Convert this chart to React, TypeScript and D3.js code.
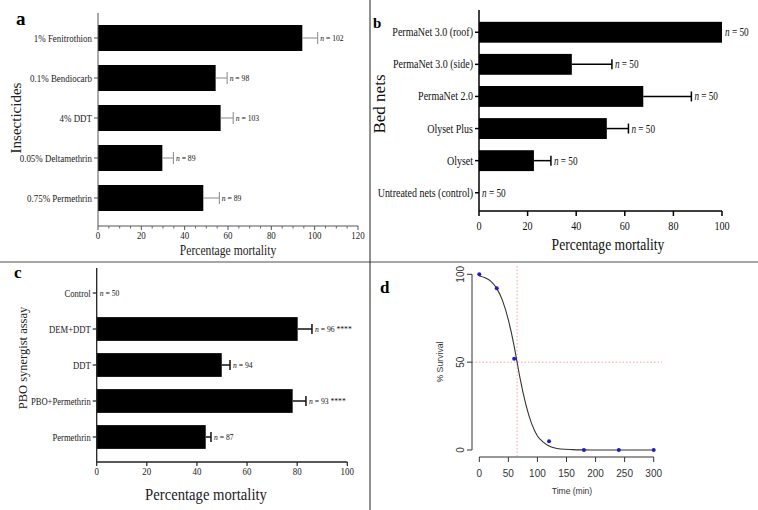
import React from 'react';
import * as d3 from 'd3';

// panel a: WHO tube tests
const insecticides = ['1% Fenitrothion', '0.1% Bendiocarb', '4% DDT', '0.05% Deltamethrin', '0.75% Permethrin'];
const insectMortality = [94.3, 54.3, 56.6, 29.7, 48.6];
const insectErr = [7.1, 5.3, 5.8, 5.1, 7.4];
const insectN = [102, 98, 103, 89, 89];

// panel b: cone tests on bed nets
const netLabels = ['PermaNet 3.0 (roof)', 'PermaNet 3.0 (side)', 'PermaNet 2.0', 'Olyset Plus', 'Olyset', 'Untreated nets (control)'];
const netMortality = [100, 38.2, 67.6, 52.6, 22.6, 0];
const netErr = [0, 16.5, 19.8, 8.9, 7, 0];
const netN = [50, 50, 50, 50, 50, 50];

// panel c: synergist assay
const pboLabels = ['Control', 'DEM+DDT', 'DDT', 'PBO+Permethrin', 'Permethrin'];
const pboMortality = [0, 80.2, 49.9, 78.2, 43.5];
const pboErr = [0, 5.7, 3.3, 5.3, 2.1];
const pboN = [50, 96, 94, 93, 87];
const pboSig = ['', '****', '', '****', ''];

// panel d: time-survival
const timePoints = [0, 30, 60, 120, 180, 240, 300];
const survival = [100, 92, 52, 5, 0, 0, 0];
const fitTime = [0, 10, 20, 30, 40, 50, 60, 65, 70, 80, 90, 100, 110, 120, 140, 160, 180, 200, 250, 300];
const fitSurvival = [99, 98, 96, 92, 85, 74, 59, 50, 41, 26, 15, 8, 4.5, 2.3, 0.6, 0.2, 0.05, 0, 0, 0];
const lt50 = 65;

const xTicks20 = [0, 20, 40, 60, 80, 100, 120];

const SERIF = '"Liberation Serif", "Times New Roman", serif';
const SANS = '"Liberation Sans", Arial, sans-serif';

// horizontally condensed text, the source figure is squeezed a bit
const CT: React.FC<any> = ({ x, y, sx = 0.85, children, ...rest }) => (
  <g transform={`translate(${x},${y}) scale(${sx},1)`}>
    <text fontFamily={SERIF} {...rest}>{children}</text>
  </g>
);

const NLabel: React.FC<{ x: number; y: number; n: number; size: number; extra?: string; sx?: number }> = ({ x, y, n, size, extra, sx = 0.85 }) => (
  <CT x={x} y={y} sx={sx} fontSize={size} fill="#111">
    <tspan fontStyle="italic">n</tspan>
    {` = ${n}`}
    {extra ? ` ${extra}` : ''}
  </CT>
);

function PanelA() {
  const x = d3.scaleLinear().domain([0, 120]).range([98, 358]);
  const y = d3.scaleBand<string>().domain(insecticides).range([18, 218]).paddingInner(0.35).paddingOuter(0.175);
  const axisY = 226;
  const minor = d3.range(0, 121, 5).filter(v => v % 20 !== 0);
  return (
    <g>
      {insecticides.map((name, i) => {
        const cy = (y(name) ?? 0) + y.bandwidth() / 2;
        const end = x(insectMortality[i]);
        const cap = x(insectMortality[i] + insectErr[i]);
        return (
          <g key={name}>
            <rect x={x(0)} y={y(name)} width={end - x(0)} height={y.bandwidth()} fill="#000" />
            <line x1={end} x2={cap} y1={cy} y2={cy} stroke="#888" strokeWidth={1} />
            <line x1={cap} x2={cap} y1={cy - 6} y2={cy + 6} stroke="#888" strokeWidth={1} />
            <NLabel x={cap + 2.5} y={cy + 3} n={insectN[i]} size={9} />
            <line x1={x(0) - 4} x2={x(0)} y1={cy} y2={cy} stroke="#555" />
            <CT x={x(0) - 6} y={cy + 3.5} fontSize={10.5} textAnchor="end" fill="#222">{name}</CT>
          </g>
        );
      })}
      <line x1={x(0)} x2={x(0)} y1={13} y2={axisY} stroke="#555" strokeWidth={1} />
      <line x1={x(0)} x2={x(120)} y1={axisY} y2={axisY} stroke="#555" strokeWidth={1} />
      {minor.map(v => (
        <line key={v} x1={x(v)} x2={x(v)} y1={axisY} y2={axisY + 2.5} stroke="#666" />
      ))}
      {xTicks20.map(v => (
        <g key={v}>
          <line x1={x(v)} x2={x(v)} y1={axisY} y2={axisY + 4} stroke="#555" />
          <CT x={x(v)} y={239} fontSize={10.5} textAnchor="middle" fill="#222">{v}</CT>
        </g>
      ))}
      <CT x={228} y={255} fontSize={14} sx={0.83} textAnchor="middle" fill="#222">Percentage mortality</CT>
      <text transform="translate(21,118) rotate(-90)" fontFamily={SERIF} fontSize={15} textAnchor="middle" fill="#222">Insecticides</text>
      <text x={16} y={25} fontFamily={SERIF} fontSize={19} fontWeight="bold" fill="#000">a</text>
    </g>
  );
}

function PanelB() {
  const x = d3.scaleLinear().domain([0, 100]).range([479, 722]);
  const y = d3.scaleBand<string>().domain(netLabels).range([16.2, 208.8]).paddingInner(0.35).paddingOuter(0.175);
  const axisY = 211;
  return (
    <g>
      {netLabels.map((name, i) => {
        const cy = (y(name) ?? 0) + y.bandwidth() / 2;
        const end = x(netMortality[i]);
        const cap = x(netMortality[i] + netErr[i]);
        return (
          <g key={name}>
            {netMortality[i] > 0 && (
              <rect x={x(0)} y={y(name)} width={end - x(0)} height={y.bandwidth()} fill="#000" />
            )}
            {netErr[i] > 0 && (
              <g>
                <line x1={end} x2={cap} y1={cy} y2={cy} stroke="#000" strokeWidth={1.5} />
                <line x1={cap} x2={cap} y1={cy - 5} y2={cy + 5} stroke="#000" strokeWidth={1.5} />
              </g>
            )}
            <NLabel x={Math.max(cap, end) + 3} y={cy + 4} n={netN[i]} size={11.5} sx={0.8} />
            <line x1={x(0) - 4} x2={x(0)} y1={cy} y2={cy} stroke="#000" strokeWidth={1.5} />
            <CT x={x(0) - 6} y={cy + 4} fontSize={12.5} sx={0.8} textAnchor="end" fill="#111">{name}</CT>
          </g>
        );
      })}
      <line x1={x(0)} x2={x(0)} y1={10} y2={axisY} stroke="#000" strokeWidth={1.5} />
      <line x1={x(0)} x2={x(100)} y1={axisY} y2={axisY} stroke="#000" strokeWidth={1.5} />
      {x.ticks(5).map(v => (
        <g key={v}>
          <line x1={x(v)} x2={x(v)} y1={axisY} y2={axisY + 5} stroke="#000" strokeWidth={1.5} />
          <CT x={x(v)} y={230} fontSize={13} sx={0.78} textAnchor="middle" fill="#111">{v}</CT>
        </g>
      ))}
      <CT x={608} y={250} fontSize={17} sx={0.8} textAnchor="middle" fill="#111">Percentage mortality</CT>
      <text transform="translate(385,104) rotate(-90)" fontFamily={SERIF} fontSize={17} textAnchor="middle" fill="#111">Bed nets</text>
      <text x={373} y={28} fontFamily={SERIF} fontSize={15} fontWeight="bold" fill="#000">b</text>
    </g>
  );
}

function PanelC() {
  const x = d3.scaleLinear().domain([0, 100]).range([96.7, 347.3]);
  const y = d3.scaleBand<string>().domain(pboLabels).range([275, 455]).paddingInner(0.34).paddingOuter(0.17);
  const axisY = 462;
  return (
    <g>
      {pboLabels.map((name, i) => {
        const cy = (y(name) ?? 0) + y.bandwidth() / 2;
        const end = x(pboMortality[i]);
        const cap = x(pboMortality[i] + pboErr[i]);
        return (
          <g key={name}>
            {pboMortality[i] > 0 && (
              <rect x={x(0)} y={y(name)} width={end - x(0)} height={y.bandwidth()} fill="#000" />
            )}
            {pboErr[i] > 0 && (
              <g>
                <line x1={end} x2={cap} y1={cy} y2={cy} stroke="#111" strokeWidth={1.5} />
                <line x1={cap} x2={cap} y1={cy - 5} y2={cy + 5} stroke="#111" strokeWidth={1.5} />
              </g>
            )}
            <NLabel x={Math.max(cap, end) + 3} y={cy + 3} n={pboN[i]} size={9} extra={pboSig[i]} />
            <line x1={x(0) - 4} x2={x(0)} y1={cy} y2={cy} stroke="#222" strokeWidth={1.2} />
            <CT x={x(0) - 6} y={cy + 3.5} fontSize={10.5} sx={0.82} textAnchor="end" fill="#222">{name}</CT>
          </g>
        );
      })}
      <line x1={x(0)} x2={x(0)} y1={268} y2={axisY} stroke="#222" strokeWidth={1.3} />
      <line x1={x(0)} x2={x(100)} y1={axisY} y2={axisY} stroke="#222" strokeWidth={1.3} />
      {x.ticks(5).map(v => (
        <g key={v}>
          <line x1={x(v)} x2={x(v)} y1={axisY} y2={axisY + 4} stroke="#222" strokeWidth={1.2} />
          <CT x={x(v)} y={475} fontSize={10.5} textAnchor="middle" fill="#222">{v}</CT>
        </g>
      ))}
      <CT x={206} y={500} fontSize={16.5} sx={0.89} textAnchor="middle" fill="#222">Percentage mortality</CT>
      <text transform="translate(27,358) rotate(-90)" fontFamily={SERIF} fontSize={12.5} textAnchor="middle" fill="#222">PBO synergist assay</text>
      <text x={14} y={278} fontFamily={SERIF} fontSize={17} fontWeight="bold" fill="#000">c</text>
    </g>
  );
}

function PanelD() {
  const x = d3.scaleLinear().domain([0, 300]).range([479.3, 653.7]);
  const y = d3.scaleLinear().domain([0, 100]).range([450, 274.3]);
  const axisX = 457;
  const axisLeft = 472;
  const line = d3.line<number>()
    .x((_, i) => x(fitTime[i]))
    .y(d => y(d))
    .curve(d3.curveMonotoneX);
  return (
    <g>
      <line x1={x(lt50)} x2={x(lt50)} y1={266} y2={axisX} stroke="#f2a3a3" strokeWidth={1} strokeDasharray="1.5,2" />
      <line x1={axisLeft} x2={662} y1={y(50)} y2={y(50)} stroke="#f2a3a3" strokeWidth={1} strokeDasharray="1.5,2" />
      <path d={line(fitSurvival) ?? ''} fill="none" stroke="#333" strokeWidth={1.1} />
      {timePoints.map((t, i) => (
        <circle key={t} cx={x(t)} cy={y(survival[i])} r={2} fill="#1c1cc8" />
      ))}
      <line x1={axisLeft} x2={axisLeft} y1={y(0)} y2={y(100)} stroke="#333" />
      {y.ticks(2).map(v => (
        <g key={v}>
          <line x1={axisLeft - 5} x2={axisLeft} y1={y(v)} y2={y(v)} stroke="#333" />
          <text transform={`translate(463.5,${y(v)}) rotate(-90)`} fontFamily={SANS} fontSize={10} textAnchor="middle" fill="#333">{v}</text>
        </g>
      ))}
      <line x1={x(0)} x2={x(300)} y1={axisX} y2={axisX} stroke="#333" />
      {x.ticks(6).map(v => (
        <g key={v}>
          <line x1={x(v)} x2={x(v)} y1={axisX} y2={axisX + 5} stroke="#333" />
          <text x={x(v)} y={477} fontFamily={SANS} fontSize={10} textAnchor="middle" fill="#333">{v}</text>
        </g>
      ))}
      <g transform="translate(572,494) scale(0.9,1)">
        <text fontFamily={SANS} fontSize={9.5} textAnchor="middle" fill="#333">Time (min)</text>
      </g>
      <text transform="translate(443,362) rotate(-90)" fontFamily={SANS} fontSize={8.7} textAnchor="middle" fill="#333">% Survival</text>
      <text x={380} y={293} fontFamily={SERIF} fontSize={17} fontWeight="bold" fill="#000">d</text>
    </g>
  );
}

export default function App() {
  return (
    <svg
      width={758}
      height={510}
      viewBox="0 0 758 510"
      style={{ position: 'absolute', left: 0, top: 0, display: 'block', background: '#fff' }}
    >
      <rect width={758} height={510} fill="#fff" />
      <PanelA />
      <PanelB />
      <PanelC />
      <PanelD />
      <line x1={0} x2={758} y1={262} y2={262} stroke="#888" strokeWidth={1.5} />
      <line x1={370} x2={370} y1={0} y2={510} stroke="#222" strokeWidth={1} />
    </svg>
  );
}
